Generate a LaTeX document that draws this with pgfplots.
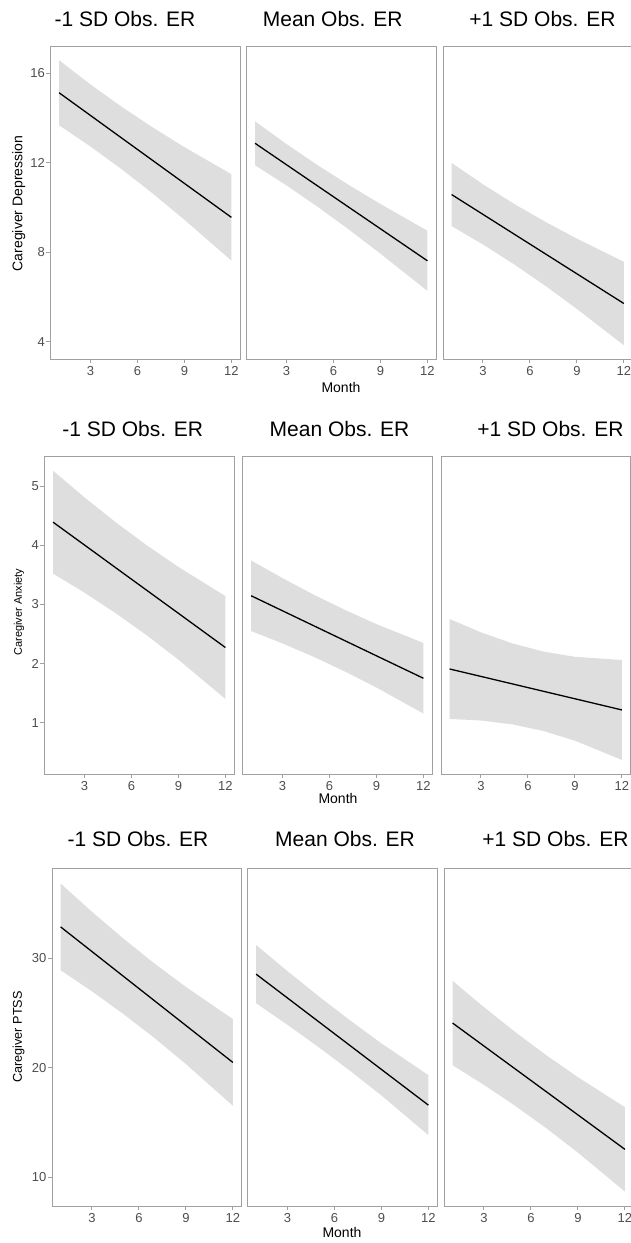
\documentclass[border=0pt]{standalone}
\usepackage{fontspec}
\setmainfont{Liberation Sans}
\usepackage{pgfplots}
\pgfplotsset{compat=1.18}
\usepackage{pgfplotstable}
\usepgfplotslibrary{fillbetween}

\definecolor{ribbon}{HTML}{DEDEDE}
\definecolor{frame}{HTML}{A0A0A0}
\definecolor{ticklab}{HTML}{4D4D4D}

% month, lower CI, fit, upper CI
% depression
\pgfplotstableread{
x lo fit hi
1 13.675 15.130 16.585
3 12.730 14.117 15.500
5 11.710 13.104 14.500
7 10.615 12.092 13.570
9 9.455 11.079 12.700
12 7.630 9.560 11.490
}\depA
\pgfplotstableread{
x lo fit hi
1 11.890 12.870 13.850
3 10.990 11.915 12.840
5 10.030 10.961 11.890
7 9.010 10.006 11.000
9 7.940 9.052 10.160
12 6.275 7.620 8.965
}\depB
\pgfplotstableread{
x lo fit hi
1 9.170 10.580 11.990
3 8.350 9.695 11.040
5 7.457 8.809 10.160
7 6.493 7.924 9.355
9 5.467 7.038 8.610
12 3.845 5.710 7.575
}\depC
% anxiety
\pgfplotstableread{
x lo fit hi
1 3.520 4.390 5.260
3 3.199 4.005 4.811
5 2.850 3.619 4.388
7 2.473 3.234 3.995
9 2.065 2.849 3.633
12 1.400 2.270 3.140
}\anxA
\pgfplotstableread{
x lo fit hi
1 2.549 3.146 3.743
3 2.340 2.892 3.444
5 2.112 2.638 3.164
7 1.863 2.384 2.905
9 1.594 2.130 2.666
12 1.153 1.750 2.347
}\anxB
\pgfplotstableread{
x lo fit hi
1 1.062 1.907 2.752
3 1.035 1.781 2.527
5 0.970 1.655 2.340
7 0.857 1.529 2.201
9 0.693 1.403 2.113
12 0.369 1.214 2.059
}\anxC
% ptss
\pgfplotstableread{
x lo fit hi
1 28.930 32.890 36.850
3 27.000 30.637 34.274
5 24.939 28.384 31.829
7 22.727 26.132 29.537
9 20.356 23.879 27.402
12 16.540 20.500 24.460
}\ptsA
\pgfplotstableread{
x lo fit hi
1 25.910 28.570 31.230
3 23.942 26.394 28.846
5 21.888 24.217 26.546
7 19.738 22.041 24.344
9 17.485 19.864 22.243
12 13.860 16.600 19.340
}\ptsB
\pgfplotstableread{
x lo fit hi
1 20.244 24.100 27.956
3 18.449 22.002 25.555
5 16.532 19.904 23.276
7 14.471 17.806 21.141
9 12.263 15.708 19.153
12 8.704 12.560 16.416
}\ptsC

\pgfplotsset{
  panel/.style={
    scale only axis, width=189.5pt,
    xmin=0.45, xmax=12.55,
    xtick={3,6,9,12},
    axis line style={draw=frame, line width=1pt},
    tick style={draw=frame, line width=0.9pt},
    tick align=outside, major tick length=4pt,
    xtick pos=bottom, ytick pos=left,
    tick label style={font=\fontsize{13}{13}\selectfont, text=ticklab},
    yticklabel style={inner sep=1.5pt},
    /pgf/number format/assume math mode=true,
    anchor=north west,
  },
  noy/.style={ytick=\empty},
}

\newcommand{\panelplot}[1]{%
  \addplot[draw=none, forget plot, name path=u] table[x=x, y=hi] {#1};
  \addplot[draw=none, forget plot, name path=l] table[x=x, y=lo] {#1};
  \addplot[fill=ribbon, draw=none] fill between[of=u and l];
  \addplot[black, line width=1.3pt] table[x=x, y=fit] {#1};
}

\begin{document}
\begin{tikzpicture}
\tikzset{ttl/.style={font=\fontsize{21}{21}\selectfont, anchor=center},
         mon/.style={font=\fontsize{14}{14}\selectfont, anchor=center}}

% row 1: depression
\begin{axis}[panel, at={(50.5pt,-46pt)}, height=313pt, ymin=3.23, ymax=17.22, ytick={4,8,12,16}]
\panelplot{\depA}
\end{axis}
\begin{axis}[panel, noy, at={(246.5pt,-46pt)}, height=313pt, ymin=3.23, ymax=17.22]
\panelplot{\depB}
\end{axis}
\begin{axis}[panel, noy, at={(443pt,-46pt)}, height=313pt, ymin=3.23, ymax=17.22]
\panelplot{\depC}
\end{axis}
\node[ttl] at (125pt,-18.8pt) {-1 SD Obs. ER};
\node[ttl] at (332.7pt,-18.8pt) {Mean Obs. ER};
\node[ttl] at (542.5pt,-18.8pt) {+1 SD Obs. ER};
\node[mon] at (341pt,-387pt) {Month};
\node[rotate=90, font=\fontsize{14}{14}\selectfont] at (18.7pt,-203.5pt) {Caregiver Depression};

% row 2: anxiety
\begin{axis}[panel, at={(44.5pt,-456pt)}, height=318pt, ymin=0.13, ymax=5.51, ytick={1,2,3,4,5}]
\panelplot{\anxA}
\end{axis}
\begin{axis}[panel, noy, at={(242.5pt,-456pt)}, height=318pt, ymin=0.13, ymax=5.51]
\panelplot{\anxB}
\end{axis}
\begin{axis}[panel, noy, at={(441pt,-456pt)}, height=318pt, ymin=0.13, ymax=5.51]
\panelplot{\anxC}
\end{axis}
\node[ttl] at (132.7pt,-428.8pt) {-1 SD Obs. ER};
\node[ttl] at (339.5pt,-428.8pt) {Mean Obs. ER};
\node[ttl] at (550.5pt,-428.8pt) {+1 SD Obs. ER};
\node[mon] at (338pt,-798pt) {Month};
\node[rotate=90, font=\fontsize{11}{11}\selectfont] at (19pt,-612pt) {Caregiver Anxiety};

% row 3: ptss
\begin{axis}[panel, at={(52pt,-868pt)}, height=338pt, ymin=7.38, ymax=38.27, ytick={10,20,30}]
\panelplot{\ptsA}
\end{axis}
\begin{axis}[panel, noy, at={(247.5pt,-868pt)}, height=338pt, ymin=7.38, ymax=38.27]
\panelplot{\ptsB}
\end{axis}
\begin{axis}[panel, noy, at={(444pt,-868pt)}, height=338pt, ymin=7.38, ymax=38.27]
\panelplot{\ptsC}
\end{axis}
\node[ttl] at (138pt,-838.8pt) {-1 SD Obs. ER};
\node[ttl] at (345pt,-838.8pt) {Mean Obs. ER};
\node[ttl] at (555.5pt,-838.8pt) {+1 SD Obs. ER};
\node[mon] at (342pt,-1232pt) {Month};
\node[rotate=90, font=\fontsize{12.7}{12.7}\selectfont] at (18.7pt,-1037pt) {Caregiver PTSS};

\pgfresetboundingbox
\path[use as bounding box] (0,0) rectangle (631pt,-1243pt);
\end{tikzpicture}
\end{document}
